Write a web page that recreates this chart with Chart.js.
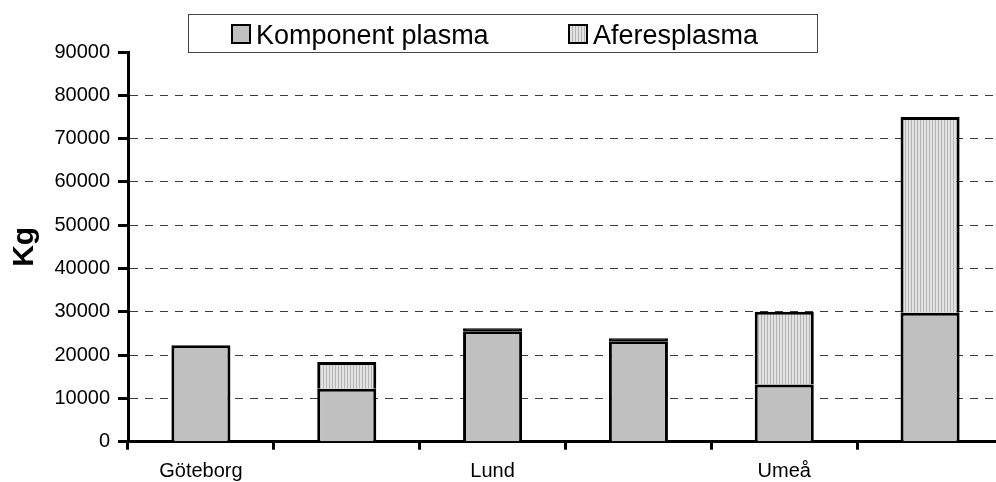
<!DOCTYPE html>
<html>
<head>
<meta charset="utf-8">
<script src="https://cdn.jsdelivr.net/npm/chart.js@4/dist/chart.umd.min.js"></script>
<style>
  html, body { margin: 0; padding: 0; background: #ffffff; overflow: hidden; width: 996px; height: 482px; }
  canvas { display: block; }
</style>
</head>
<body>
<canvas id="chart" width="1010" height="482"></canvas>
<script>
// Plasma volumes (kg) per site
const categories = ['Göteborg', '', 'Lund', '', 'Umeå', ''];
const komponentPlasma = [22300, 12200, 25500, 23200, 13200, 29800];
const aferesPlasma = [0, 6200, 700, 700, 16800, 45200];
const seriesLabels = ['Komponent plasma', 'Aferesplasma'];
const yMin = 0;
const yMax = 90000;
const yStep = 10000;

const FONT = '"Liberation Sans", Arial, sans-serif';

// fine vertical hatch used for the apheresis segments
function makeHatch() {
  const c = document.createElement('canvas');
  c.width = 3; c.height = 1;
  const g = c.getContext('2d');
  g.fillStyle = '#e2e2e2'; g.fillRect(0, 0, 3, 1);
  g.fillStyle = '#b4b4b4'; g.fillRect(2, 0, 1, 1);
  return g.createPattern(c, 'repeat');
}
const hatch = makeHatch();

// a sliver thinner than its outline reads as solid outline
function aferesFill(ctx) {
  const y = ctx.chart.scales.y;
  if (y && typeof ctx.raw === 'number' && ctx.raw > 0) {
    const h = Math.abs(y.getPixelForValue(0) - y.getPixelForValue(ctx.raw));
    if (h < 6) return '#000000';
  }
  return hatch;
}

// boxed legend along the top
const boxLegend = {
  id: 'boxLegend',
  afterDraw(chart) {
    const ctx = chart.ctx;
    ctx.save();
    ctx.lineWidth = 1;
    ctx.strokeStyle = '#444444';
    ctx.fillStyle = '#ffffff';
    ctx.fillRect(188.5, 14.5, 629, 38);
    ctx.strokeRect(188.5, 14.5, 629, 38);
    const swatchX = [231, 568];
    const swatchFill = ['#c0c0c0', hatch];
    chart.data.datasets.forEach((ds, i) => {
      const x = swatchX[i];
      ctx.fillStyle = swatchFill[i];
      ctx.fillRect(x, 24, 20, 20);
      ctx.lineWidth = 2;
      ctx.strokeStyle = '#000000';
      ctx.strokeRect(x + 1, 25, 18, 18);
      ctx.fillStyle = '#000000';
      ctx.font = '27px ' + FONT;
      ctx.textBaseline = 'alphabetic';
      ctx.textAlign = 'left';
      ctx.fillText(ds.label, x + 25, 44);
    });
    ctx.restore();
  }
};

new Chart(document.getElementById('chart'), {
  type: 'bar',
  data: {
    labels: categories,
    datasets: [
      {
        label: seriesLabels[0],
        data: komponentPlasma,
        backgroundColor: '#c0c0c0',
        borderColor: '#000000',
        borderWidth: 3,
        barPercentage: 0.405,
        categoryPercentage: 1.0
      },
      {
        label: seriesLabels[1],
        data: aferesPlasma,
        backgroundColor: aferesFill,
        borderColor: '#000000',
        borderWidth: 3,
        barPercentage: 0.405,
        categoryPercentage: 1.0
      }
    ]
  },
  options: {
    responsive: false,
    animation: false,
    devicePixelRatio: 1,
    layout: { padding: { top: 52, right: 7, left: 0, bottom: 0 } },
    plugins: {
      legend: { display: false },
      tooltip: { enabled: false }
    },
    scales: {
      x: {
        stacked: true,
        offset: true,
        afterFit(scale) { scale.height = 40.3; },
        grid: {
          offset: true,
          drawOnChartArea: false,
          drawTicks: true,
          tickLength: 8,
          tickWidth: 3,
          tickColor: '#000000'
        },
        border: { display: true, color: '#000000', width: 3 },
        ticks: {
          color: '#000000',
          font: { family: FONT, size: 20 },
          padding: 10,
          autoSkip: false,
          maxRotation: 0
        }
      },
      y: {
        stacked: true,
        min: yMin,
        max: yMax,
        afterFit(scale) { scale.width = 128; },
        grid: {
          color: (c) => (c.tick && (c.tick.value === yMin || c.tick.value === yMax)) ? 'rgba(0,0,0,0)' : '#3a3a3a',
          lineWidth: 1,
          drawTicks: true,
          tickLength: 10,
          tickWidth: 3,
          tickColor: '#000000'
        },
        border: { display: true, color: '#000000', width: 3, dash: [8, 7] },
        ticks: {
          stepSize: yStep,
          color: '#000000',
          font: { family: FONT, size: 20 },
          padding: 8,
          callback: (v) => String(v)
        },
        title: {
          display: true,
          text: 'Kg',
          color: '#000000',
          font: { family: FONT, size: 30, weight: 'bold' },
          padding: { top: 7, bottom: 0 }
        }
      }
    }
  },
  plugins: [boxLegend]
});
</script>
</body>
</html>
